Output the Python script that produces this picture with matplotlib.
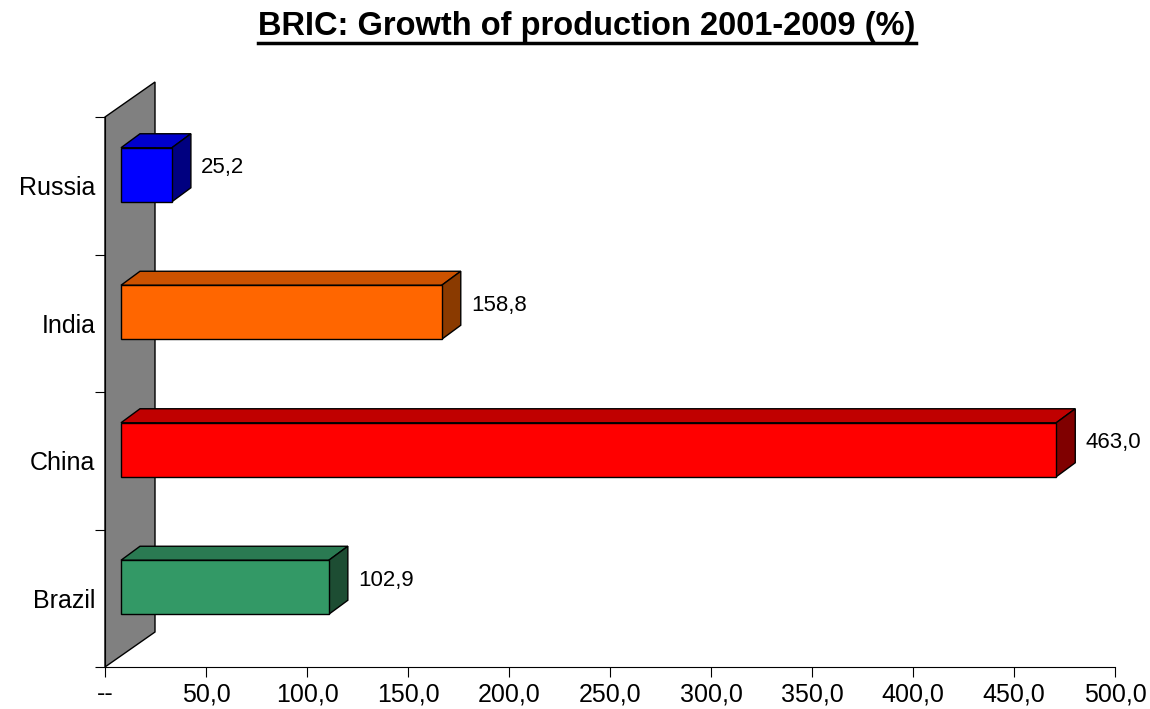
import matplotlib
matplotlib.use("Agg")
import matplotlib.pyplot as plt
from matplotlib.patches import Polygon
from matplotlib.lines import Line2D
import numpy as np

categories = ["Brazil", "China", "India", "Russia"]
values = [102.9, 463.0, 158.8, 25.2]
value_labels = ["102,9", "463,0", "158,8", "25,2"]
front_colors = ["#339966", "#FF0000", "#FF6600", "#0000FF"]
top_colors = ["#2A7A52", "#C00000", "#CC5200", "#0000CC"]
side_colors = ["#1D4D33", "#800000", "#8A3A00", "#000080"]
x_ticks = [0, 50, 100, 150, 200, 250, 300, 350, 400, 450, 500]
x_tick_labels = ["--", "50,0", "100,0", "150,0", "200,0", "250,0", "300,0",
                 "350,0", "400,0", "450,0", "500,0"]

plt.rcParams["font.family"] = ["Liberation Sans", "DejaVu Sans"]

W, H = 1150, 709
fig = plt.figure(figsize=(W / 100, H / 100), dpi=100)
ax = fig.add_axes([105 / W, (H - 667) / H, (1115 - 105) / W, (667 - 117) / H])
ax.set_xlim(0, 500)
ax.set_ylim(0, 4)

# pixel -> data conversion for the 3d offsets
px_x = 500 / (1115 - 105)
px_y = 4 / (667 - 117)
wall_dx, wall_dy = 50 * px_x, 35 * px_y
front_dx, front_dy = 16 * px_x, 11 * px_y
bar_dx, bar_dy = 19 * px_x, 14 * px_y
bar_h = 54 * px_y

wall = Polygon([(0, 0), (wall_dx, wall_dy), (wall_dx, 4 + wall_dy), (0, 4)],
               closed=True, facecolor="#808080", edgecolor="black", lw=1,
               clip_on=False, zorder=1)
ax.add_patch(wall)

for i, (v, lab) in enumerate(zip(values, value_labels)):
    x0 = front_dx
    x1 = front_dx + v
    y0 = i + 0.5 + front_dy - bar_h / 2
    y1 = y0 + bar_h
    kw = dict(closed=True, edgecolor="black", lw=1, clip_on=False, zorder=3)
    ax.add_patch(Polygon([(x0, y1), (x0 + bar_dx, y1 + bar_dy), (x1 + bar_dx, y1 + bar_dy), (x1, y1)],
                         facecolor=top_colors[i], **kw))
    ax.add_patch(Polygon([(x1, y0), (x1 + bar_dx, y0 + bar_dy), (x1 + bar_dx, y1 + bar_dy), (x1, y1)],
                         facecolor=side_colors[i], **kw))
    ax.add_patch(Polygon([(x0, y0), (x1, y0), (x1, y1), (x0, y1)],
                         facecolor=front_colors[i], **kw))
    ax.text(x1 + bar_dx + 10 * px_x, (y0 + y1) / 2 + bar_dy / 2, lab,
            ha="left", va="center", fontsize=16, zorder=4)

for s in ["top", "right"]:
    ax.spines[s].set_visible(False)
ax.spines["left"].set_zorder(2)
ax.set_xticks(x_ticks)
ax.set_xticklabels(x_tick_labels)
ax.set_yticks([0, 1, 2, 3, 4])
ax.set_yticklabels([])
ax.set_yticks([0.5, 1.5, 2.5, 3.5], minor=True)
ax.set_yticklabels(categories, minor=True)
ax.tick_params(axis="y", which="minor", length=0, pad=7, labelsize=18)
ax.tick_params(axis="y", which="major", length=7, direction="out")
ax.tick_params(axis="x", length=7, direction="out", labelsize=18, pad=4)

title = fig.text(587 / W, 1 - 26 / H, "BRIC: Growth of production 2001-2009 (%)",
                 ha="center", va="center", fontsize=23.5, fontweight="bold")
fig.canvas.draw()
bb = title.get_window_extent()
uy = (bb.y0 - 1) / H
fig.add_artist(Line2D([bb.x0 / W, bb.x1 / W], [uy, uy], color="black", lw=2.5,
                      transform=fig.transFigure))

fig.savefig("out.png", dpi=100)
